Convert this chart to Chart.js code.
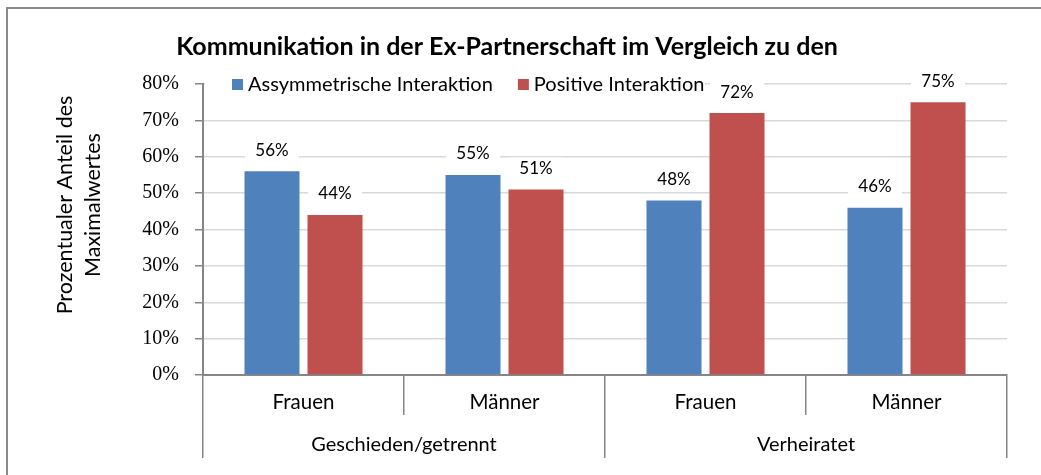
<!DOCTYPE html>
<html lang="de">
<head>
<meta charset="utf-8">
<title>Kommunikation in der Ex-Partnerschaft</title>
<script src="https://cdn.jsdelivr.net/npm/chart.js@4"></script>
<style>
  html, body { margin: 0; padding: 0; background: #ffffff; }
  #wrap { position: relative; width: 1041px; height: 475px; }
</style>
</head>
<body>
<div id="wrap"><canvas id="chart" width="1041" height="475"></canvas></div>
<script>
// Daten, Anteile als Bruch von 1.
var CATEGORIES = ["Frauen", "Männer", "Frauen", "Männer"];
var GROUPS = ["Geschieden/getrennt", "Verheiratet"];
var SERIES_NAMES = ["Assymmetrische Interaktion", "Positive Interaktion"];
var ASYMMETRIC = [0.56, 0.55, 0.48, 0.46];
var POSITIVE = [0.44, 0.51, 0.72, 0.75];
var TITLE = "Kommunikation in der Ex-Partnerschaft im Vergleich zu den";
var Y_TITLE = ["Prozentualer Anteil des", "Maximalwertes"];

(function () {
  "use strict";

  var BLUE = "#4F81BD";
  var RED = "#C0504D";
  var AXIS = "#868686";
  var GRID = "#d9d9d9";
  var SANS = "Lato, 'Open Sans', sans-serif";
  var SERIF = "'Liberation Serif', 'DejaVu Serif', serif";

  function pct(v) {
    return Math.round(v * 100) + "%";
  }

  // Rahmen um das ganze Diagramm (nur links/oben sichtbar).
  var framePlugin = {
    id: "frame",
    beforeDraw: function (chart) {
      var ctx = chart.ctx;
      ctx.save();
      ctx.strokeStyle = "#8a8a8a";
      ctx.lineWidth = 2;
      ctx.strokeRect(7, 8, chart.width + 20, chart.height + 20);
      ctx.restore();
    },
  };

  // Achsentitel links: zwei zentrierte Zeilen, etwas oberhalb der Mitte.
  var yTitle = {
    id: "yTitle",
    afterDraw: function (chart) {
      var ctx = chart.ctx;
      ctx.save();
      ctx.translate(65, 205);
      ctx.rotate(-Math.PI / 2);
      ctx.font = "21.5px " + SANS;
      ctx.fillStyle = "#000000";
      ctx.textAlign = "center";
      ctx.textBaseline = "middle";
      Y_TITLE.forEach(function (line, i) {
        ctx.fillText(line, 0, i * 28);
      });
      ctx.restore();
    },
  };

  // Wertbeschriftungen über den Balken, mit weißem Hintergrund.
  var valueLabels = {
    id: "valueLabels",
    afterDatasetsDraw: function (chart) {
      var ctx = chart.ctx;
      ctx.save();
      ctx.font = "17px " + SANS;
      ctx.textAlign = "center";
      ctx.textBaseline = "middle";
      chart.data.datasets.forEach(function (ds, di) {
        chart.getDatasetMeta(di).data.forEach(function (bar, i) {
          var y = bar.y - 22;
          ctx.fillStyle = "#ffffff";
          ctx.fillRect(bar.x - 27, y - 10, 54, 20);
          ctx.fillStyle = "#000000";
          ctx.fillText(pct(ds.data[i]), bar.x, y + 1);
        });
      });
      ctx.restore();
    },
  };

  // Legende schwebt im Diagrammbereich oben links.
  var floatingLegend = {
    id: "floatingLegend",
    afterDatasetsDraw: function (chart) {
      var ctx = chart.ctx;
      var area = chart.chartArea;
      var y = area.top;
      ctx.save();
      ctx.fillStyle = "#ffffff";
      ctx.fillRect(area.left + 2, y - 11, 500, 22);
      ctx.font = "20px " + SANS;
      ctx.textBaseline = "middle";
      var x = area.left + 29;
      chart.data.datasets.forEach(function (ds) {
        ctx.fillStyle = ds.backgroundColor;
        ctx.fillRect(x, y - 5, 11, 11);
        ctx.fillStyle = "#000000";
        ctx.fillText(ds.label, x + 16, y + 1);
        x += 16 + ctx.measureText(ds.label).width + 25;
      });
      ctx.restore();
    },
  };

  new Chart(document.getElementById("chart"), {
    type: "bar",
    data: {
      labels: CATEGORIES,
      datasets: [
        {
          label: SERIES_NAMES[0],
          data: ASYMMETRIC,
          backgroundColor: BLUE,
          categoryPercentage: 0.627,
          barPercentage: 0.873,
        },
        {
          label: SERIES_NAMES[1],
          data: POSITIVE,
          backgroundColor: RED,
          categoryPercentage: 0.627,
          barPercentage: 0.873,
        },
      ],
    },
    options: {
      responsive: false,
      animation: false,
      layout: { padding: { left: 7, top: 8, right: 34, bottom: 0 } },
      plugins: {
        legend: { display: false },
        tooltip: { enabled: false },
        title: {
          display: true,
          text: TITLE,
          color: "#000000",
          font: { family: SANS, size: 25, weight: "bold" },
          padding: { top: 24, bottom: 22 },
        },
      },
      scales: {
        y: {
          min: 0,
          max: 0.8,
          ticks: {
            stepSize: 0.1,
            callback: pct,
            color: "#000000",
            font: { family: SERIF, size: 20 },
            padding: 16,
          },
          grid: { color: GRID, lineWidth: 1.5, tickColor: AXIS, tickLength: 8 },
          border: { color: AXIS, width: 2 },
          afterFit: function (scale) {
            scale.width = 196;
          },
        },
        x: {
          ticks: {
            color: "#000000",
            font: { family: SANS, size: 20.5 },
            padding: -25,
            autoSkip: false,
            maxRotation: 0,
          },
          grid: {
            offset: true,
            drawOnChartArea: false,
            tickColor: AXIS,
            tickLength: 40,
            lineWidth: 1.5,
          },
          border: { color: AXIS, width: 2 },
          afterFit: function (scale) {
            scale.height = 40;
          },
        },
        x2: {
          type: "category",
          labels: GROUPS,
          position: "bottom",
          offset: true,
          ticks: {
            color: "#000000",
            font: { family: SANS, size: 20 },
            padding: -25,
            autoSkip: false,
            maxRotation: 0,
          },
          grid: {
            offset: true,
            drawOnChartArea: false,
            tickColor: AXIS,
            tickLength: 43,
            lineWidth: 1.5,
          },
          border: { display: false },
          afterFit: function (scale) {
            scale.height = 60;
          },
        },
      },
    },
    plugins: [framePlugin, yTitle, valueLabels, floatingLegend],
  });
})();
</script>
</body>
</html>
